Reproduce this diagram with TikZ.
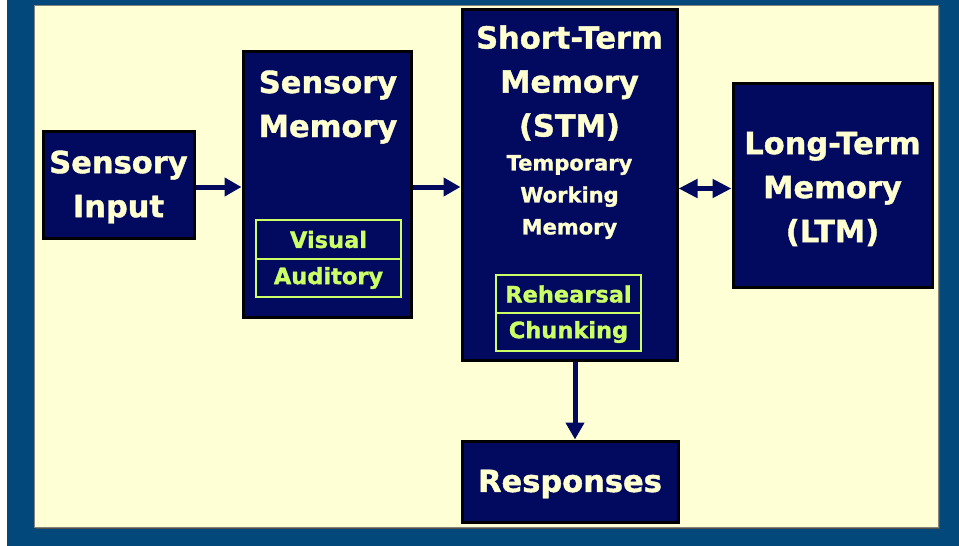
\documentclass[tikz,border=0pt]{standalone}
\usepackage{fontspec}
\setmainfont[BoldFeatures={FakeBold=1.3}]{DejaVu Sans}
\usetikzlibrary{arrows.meta}
\definecolor{outerblue}{RGB}{3,72,122}
\definecolor{cream}{RGB}{255,255,214}
\definecolor{navy}{RGB}{2,10,96}
\definecolor{txtcream}{RGB}{255,255,208}
\definecolor{lime}{RGB}{204,255,102}
\definecolor{shadowgray}{RGB}{80,80,70}
\tikzset{
  mbox/.style={draw=black, line width=3pt, fill=navy, inner sep=0pt},
  ibox/.style={draw=lime, line width=2pt, fill=navy, inner sep=0pt, minimum width=145pt},
  bigtxt/.style={text=txtcream, align=center, inner sep=0pt, font=\fontsize{30.5}{44}\selectfont\bfseries},
  midtxt/.style={text=txtcream, align=center, inner sep=0pt, font=\fontsize{21}{32}\selectfont\bfseries},
  inntxt/.style={text=lime, inner sep=0pt, font=\fontsize{22.5}{27}\selectfont\bfseries},
  arr/.style={draw=navy, line width=5pt, -{Triangle[length=17pt,width=18pt]}},
  darr/.style={draw=navy, line width=5pt, {Triangle[length=19pt,width=18pt]}-{Triangle[length=19pt,width=18pt]}}
}
\begin{document}
\begin{tikzpicture}[x=1pt,y=-1pt]
\useasboundingbox (0,0) rectangle (959,546);
\fill[white] (0,0) rectangle (959,546);
\fill[outerblue] (7,0) rectangle (959,546);
\fill[shadowgray] (36,7) rectangle (940,529);
\fill[cream, draw=shadowgray!70, line width=0.8pt] (34,5) rectangle (938,527);

% boxes
\node[mbox, minimum width=151pt, minimum height=107pt] (si) at (118.5,184.5) {};
\node[mbox, minimum width=168pt, minimum height=266pt] (sm) at (327,184) {};
\node[mbox, minimum width=215pt, minimum height=351pt] (stm) at (569.5,184.5) {};
\node[mbox, minimum width=199pt, minimum height=204pt] (ltm) at (832.5,185) {};
\node[mbox, minimum width=216pt, minimum height=81pt] (resp) at (570,481.5) {};

% inner boxes
\node[ibox, minimum height=39pt] (vis) at (328.5,239.5) {};
\node[ibox, minimum height=38pt] (aud) at (328.5,278) {};
\node[ibox, minimum height=38pt] (reh) at (568.5,294) {};
\node[ibox, minimum height=38pt] (chu) at (568.5,332) {};

% texts
\node[bigtxt] (tsi) at (118.5,187) {Sensory\\Input};
\node[bigtxt] (tsm) at (328,107) {Sensory\\Memory};
\node[bigtxt] (tstm) at (569.5,83) {Short-Term\\Memory\\(STM)};
\node[midtxt] (twm) at (569.5,197) {Temporary\\Working\\Memory};
\node[bigtxt] (tltm) at (832.5,189) {Long-Term\\Memory\\(LTM)};
\node[bigtxt] (tresp) at (570,484) {Responses};
\node[inntxt] (tvis) at (vis) {Visual};
\node[inntxt] (taud) at (aud) {Auditory};
\node[inntxt] (treh) at (reh) {Rehearsal};
\node[inntxt] (tchu) at (chu) {Chunking};

% connectors
\draw[arr] ([yshift=-2.5pt]si.east) -- ([yshift=-2.5pt]si.east -| sm.west);
\draw[arr] ([yshift=-3pt]sm.east) -- ([yshift=-3pt]sm.east -| stm.west);
\draw[darr] ([yshift=-4pt]stm.east) -- ([yshift=-4pt]stm.east -| ltm.west);
\draw[arr] ([xshift=5.5pt]stm.south) -- ([xshift=5.5pt]stm.south |- resp.north);
\end{tikzpicture}
\end{document}
